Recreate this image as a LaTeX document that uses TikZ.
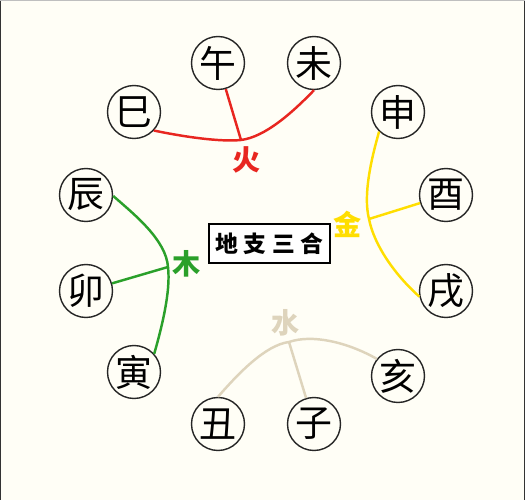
\documentclass[tikz,border=0pt]{standalone}
\usepackage{fontspec}
\newfontfamily\cjk{Noto Sans CJK SC}
\definecolor{bgcream}{RGB}{255,254,246}
\definecolor{fireRed}{RGB}{232,38,32}
\definecolor{metalYellow}{RGB}{255,222,0}
\definecolor{woodGreen}{RGB}{42,160,42}
\definecolor{waterBeige}{RGB}{222,212,188}
\begin{document}
\begin{tikzpicture}[x=0.02cm, y=-0.02cm,
branchnode/.style={circle, draw=black!85, fill=bgcream, line width=0.8pt, minimum size=1.06cm, inner sep=0pt, font=\cjk\fontsize{21}{21}\selectfont},
elementnode/.style={inner sep=0pt, font=\cjk\bfseries\fontsize{16}{16}\selectfont},
titlenode/.style={rectangle, draw=black, fill=white, line width=1.5pt, minimum width=2.42cm, minimum height=0.78cm, inner sep=0pt, font=\cjk\bfseries\fontsize{13}{13}\selectfont}]

\useasboundingbox (0,0) rectangle (525,500);
\fill[bgcream] (0,0) rectangle (525,500);
\draw[black!80, line width=0.8pt] (0,500) -- (0,0) (525,0) -- (525,500);
\draw[black!25, line width=0.6pt] (0,0) -- (525,0);

\node[titlenode](title) at (269.5, 243.5){地\hskip.25em 支\hskip.25em 三\hskip.25em 合};

% fire
\node[branchnode](si) at (134, 112){巳};
\node[branchnode](wu) at (218, 63){午};
\node[branchnode](wei) at (314, 63){未};
\coordinate (fireJoin) at (241, 140);
\node[elementnode, text=fireRed](fire) at (247, 160){火};
\draw[fireRed, line width=1.4pt](si.-43) .. controls (185, 137) and (220, 142) .. (fireJoin) .. controls (265, 137) and (292, 113) .. (wei.south);
\draw[fireRed, line width=1.4pt](wu) -- (fireJoin);

% metal
\node[branchnode](shen) at (398, 112){申};
\node[branchnode](you) at (446, 195){酉};
\node[branchnode](xu) at (446, 291){戌};
\coordinate (metalJoin) at (369, 219);
\node[elementnode, text=metalYellow](metal) at (348, 224){金};
\draw[metalYellow, line width=1.4pt](shen.-134) .. controls (371, 160) and (363, 195) .. (metalJoin) .. controls (374, 245) and (395, 275) .. (xu.-168);
\draw[metalYellow, line width=1.4pt](you) -- (metalJoin);

% wood
\node[branchnode](chen) at (86, 195){辰};
\node[branchnode](mao) at (86, 291){卯};
\node[branchnode](yin) at (134, 372){寅};
\coordinate (woodJoin) at (168, 267);
\node[elementnode, text=woodGreen](wood) at (187, 264){木};
\draw[woodGreen, line width=1.4pt](chen.-2) .. controls (135, 215) and (166, 240) .. (woodJoin) .. controls (171, 292) and (161, 330) .. (yin.42);
\draw[woodGreen, line width=1.4pt](mao) -- (woodJoin);

% water
\node[branchnode](chou) at (218, 424){丑};
\node[branchnode](zi) at (314, 424){子};
\node[branchnode](hai) at (398, 376){亥};
\coordinate (waterJoin) at (289, 342);
\node[elementnode, text=waterBeige](water) at (286, 323){水};
\draw[waterBeige, line width=1.4pt](chou.north) .. controls (237, 375) and (265, 345) .. (waterJoin) .. controls (312, 334) and (347, 342) .. (hai.141);
\draw[waterBeige, line width=1.4pt](zi) -- (waterJoin);

\end{tikzpicture}
\end{document}
